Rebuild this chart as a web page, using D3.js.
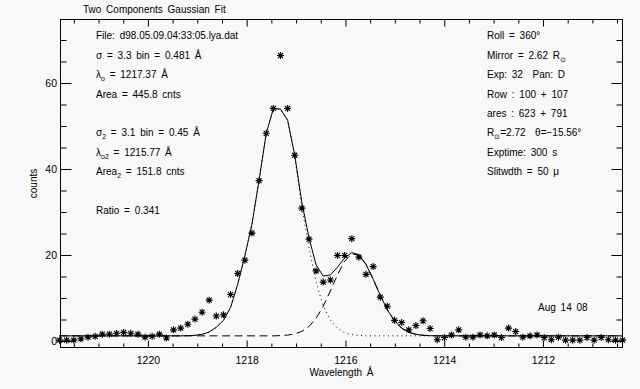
<!DOCTYPE html>
<html lang="en">
<head>
<meta charset="UTF-8">
<title>Two Components Gaussian Fit</title>
<style>
  body { margin: 0; background: #f8f8f8; }
  svg { display: block; font-family: "Liberation Sans", Arial, sans-serif; }
  .note { font-size: 10px; word-spacing: 2px; white-space: pre; }
</style>
</head>
<body>
<svg id="chart" width="640" height="389"></svg>
<script src="https://cdnjs.cloudflare.com/ajax/libs/d3/7.8.5/d3.min.js"></script>
<script>
// wavelength bins (Angstrom) and measured counts
const wavelength = [
  1221.790, 1221.646, 1221.501, 1221.357, 1221.213, 1221.068, 1220.924, 1220.780, 1220.635, 1220.491,
  1220.347, 1220.202, 1220.058, 1219.914, 1219.769, 1219.625, 1219.481, 1219.336, 1219.192, 1219.048,
  1218.903, 1218.759, 1218.615, 1218.470, 1218.326, 1218.182, 1218.037, 1217.893, 1217.749, 1217.604,
  1217.460, 1217.316, 1217.171, 1217.027, 1216.883, 1216.738, 1216.594, 1216.450, 1216.305, 1216.161,
  1216.017, 1215.872, 1215.728, 1215.584, 1215.439, 1215.295, 1215.151, 1215.006, 1214.862, 1214.718,
  1214.573, 1214.429, 1214.285, 1214.140, 1213.996, 1213.852, 1213.707, 1213.563, 1213.419, 1213.274,
  1213.130, 1212.986, 1212.841, 1212.697, 1212.553, 1212.408, 1212.264, 1212.120, 1211.975, 1211.831,
  1211.687, 1211.542, 1211.398, 1211.254, 1211.109, 1210.965, 1210.821, 1210.676, 1210.532, 1210.388
];
const counts = [
  0.2, 0.2, 0.2, 0.5, 0.9, 1.1, 1.6, 1.6, 1.8, 2.0,
  1.8, 1.6, 0.9, 1.1, 1.6, 0.7, 2.6, 3.0, 3.9, 5.1,
  6.7, 9.5, 5.8, 6.1, 10.8, 15.7, 18.8, 25.1, 37.3, 48.3,
  54.1, 66.4, 54.1, 43.2, 30.9, 23.7, 16.3, 13.7, 14.2, 19.9,
  19.9, 23.8, 19.5, 15.5, 17.3, 10.2, 8.1, 4.8, 4.3, 2.6,
  3.6, 4.7, 2.9, 0.3, 0.8, 1.4, 2.6, 0.9, 0.9, 1.4,
  1.2, 1.4, 0.8, 3.0, 2.2, 0.9, 1.2, 1.4, 0.8, 0.3,
  0.9, 0.2, 0.2, 0.2, 0.8, 0.2, 0.8, 0.3, 0.2, 0.2
];
const fitTotal = [
  1.2, 1.2, 1.2, 1.2, 1.2, 1.2, 1.2, 1.2, 1.2, 1.2,
  1.2, 1.2, 1.2, 1.2, 1.2, 1.2, 1.2, 1.2, 1.24, 1.32,
  1.55, 2.1, 3.2, 4.8, 7.8, 13.2, 19.8, 27.2, 37.4, 48.3,
  54.0, 53.96, 51.37, 43.25, 32.24, 23.98, 17.69, 15.09, 15.36, 17.17,
  19.31, 20.55, 20.09, 17.83, 14.4, 10.62, 7.24, 4.67, 2.99, 2.03,
  1.55, 1.33, 1.24, 1.2, 1.2, 1.2, 1.2, 1.2, 1.2, 1.2,
  1.2, 1.2, 1.2, 1.2, 1.2, 1.2, 1.2, 1.2, 1.2, 1.2,
  1.2, 1.2, 1.2, 1.2, 1.2, 1.2, 1.2, 1.2, 1.2, 1.2
];
const fitMain = [
  1.2, 1.2, 1.2, 1.2, 1.2, 1.2, 1.2, 1.2, 1.2, 1.2,
  1.2, 1.2, 1.2, 1.2, 1.2, 1.2, 1.2, 1.2, 1.24, 1.32,
  1.55, 2.1, 3.2, 4.8, 7.8, 13.2, 19.8, 27.2, 37.4, 48.3,
  54.0, 53.9, 51.2, 42.8, 31.2, 21.8, 13.6, 8.2, 4.9, 2.95,
  1.94, 1.48, 1.3, 1.2, 1.2, 1.2, 1.2, 1.2, 1.2, 1.2,
  1.2, 1.2, 1.2, 1.2, 1.2, 1.2, 1.2, 1.2, 1.2, 1.2,
  1.2, 1.2, 1.2, 1.2, 1.2, 1.2, 1.2, 1.2, 1.2, 1.2,
  1.2, 1.2, 1.2, 1.2, 1.2, 1.2, 1.2, 1.2, 1.2, 1.2
];
const fitSecond = [
  1.2, 1.2, 1.2, 1.2, 1.2, 1.2, 1.2, 1.2, 1.2, 1.2,
  1.2, 1.2, 1.2, 1.2, 1.2, 1.2, 1.2, 1.2, 1.2, 1.2,
  1.2, 1.2, 1.2, 1.2, 1.2, 1.2, 1.2, 1.2, 1.2, 1.2,
  1.2, 1.26, 1.37, 1.65, 2.24, 3.38, 5.29, 8.09, 11.66, 15.42,
  18.57, 20.27, 19.99, 17.83, 14.4, 10.62, 7.24, 4.67, 2.99, 2.03,
  1.55, 1.33, 1.24, 1.2, 1.2, 1.2, 1.2, 1.2, 1.2, 1.2,
  1.2, 1.2, 1.2, 1.2, 1.2, 1.2, 1.2, 1.2, 1.2, 1.2,
  1.2, 1.2, 1.2, 1.2, 1.2, 1.2, 1.2, 1.2, 1.2, 1.2
];

const xMajorTicks = [1220, 1218, 1216, 1214, 1212];
const xMinorTicks = [1221.5, 1221, 1220.5, 1219.5, 1219, 1218.5, 1217.5, 1217, 1216.5,
                     1215.5, 1215, 1214.5, 1213.5, 1213, 1212.5, 1211.5, 1211, 1210.5];
const yMajorTicks = [0, 20, 40, 60];
const yMinorTicks = [5, 10, 15, 25, 30, 35, 45, 50, 55, 65, 70];

const title = "Two Components Gaussian Fit";
const leftNotes = [
  "File: d98.05.09.04:33:05.lya.dat",
  "σ = 3.3 bin = 0.481 Å",
  "λ_{o} = 1217.37 Å",
  "Area = 445.8 cnts",
  "",
  "σ_{2} = 3.1 bin = 0.45 Å",
  "λ_{o2} = 1215.77 Å",
  "Area_{2} = 151.8 cnts",
  "",
  "Ratio = 0.341"
];
const rightNotes = [
  "Roll = 360°",
  "Mirror = 2.62 R_{⊙}",
  "Exp: 32  Pan: D",
  "Row : 100 + 107",
  "ares : 623 + 791",
  "R_{⊙}=2.72  θ=−15.56°",
  "Exptime: 300 s",
  "Slitwdth = 50 μ"
];
const dateNote = "Aug 14 08";

const svg = d3.select('#chart');
const plotLeft = 60.5, plotRight = 622.5, plotTop = 19.5, plotBottom = 347.5;

const x = d3.scaleLinear().domain([1221.77, 1210.39]).range([plotLeft, plotRight]);
const y = d3.scaleLinear().domain([-1.51, 74.77]).range([plotBottom, plotTop]);

// axes with inward ticks on all four sides
function axisGroup(axis, tx, ty) {
  const g = svg.append('g').attr('transform', `translate(${tx},${ty})`).call(axis);
  g.select('.domain').remove();
  g.attr('font-family', null).attr('font-size', '10.5px');
  g.selectAll('text').attr('fill', '#000');
  return g;
}
axisGroup(d3.axisBottom(x).tickValues(xMajorTicks).tickSize(-7).tickPadding(9).tickFormat(d3.format('d')), 0, plotBottom);
axisGroup(d3.axisBottom(x).tickValues(xMinorTicks).tickSize(-4).tickFormat(''), 0, plotBottom);
axisGroup(d3.axisTop(x).tickValues(xMajorTicks).tickSize(-7).tickFormat(''), 0, plotTop);
axisGroup(d3.axisTop(x).tickValues(xMinorTicks).tickSize(-4).tickFormat(''), 0, plotTop);
axisGroup(d3.axisLeft(y).tickValues(yMajorTicks).tickSize(-11).tickPadding(3.5), plotLeft, 0);
axisGroup(d3.axisLeft(y).tickValues(yMinorTicks).tickSize(-6).tickFormat(''), plotLeft, 0);
axisGroup(d3.axisRight(y).tickValues(yMajorTicks).tickSize(-11).tickFormat(''), plotRight, 0);
axisGroup(d3.axisRight(y).tickValues(yMinorTicks).tickSize(-6).tickFormat(''), plotRight, 0);

svg.append('rect')
  .attr('x', plotLeft).attr('y', plotTop)
  .attr('width', plotRight - plotLeft).attr('height', plotBottom - plotTop)
  .attr('fill', 'none').attr('stroke', '#000');

// fit curves
const line = vals => d3.line()
  .x((d, i) => x(wavelength[i]))
  .y(d => y(d))(vals);

svg.append('path').attr('d', line(fitMain))
  .attr('fill', 'none').attr('stroke', '#000').attr('stroke-dasharray', '1,3.5');
svg.append('path').attr('d', line(fitSecond))
  .attr('fill', 'none').attr('stroke', '#000').attr('stroke-dasharray', '8,4.5');
svg.append('path').attr('d', line(fitTotal))
  .attr('fill', 'none').attr('stroke', '#000');

// data points as asterisks
const star = 'M-3.5,0H3.5M0,-3.5V3.5M-2.5,-2.5L2.5,2.5M-2.5,2.5L2.5,-2.5';
svg.append('g').selectAll('path')
  .data(counts)
  .enter()
  .append('path')
  .attr('d', star)
  .attr('transform', (d, i) => `translate(${x(wavelength[i])},${y(d)})`)
  .attr('stroke', '#000')
  .attr('stroke-width', 1.1)
  .attr('fill', 'none');

// text with _{sub} and ^{sup} markers
function richText(sel, str) {
  const parts = str.split(/(_\{[^}]*\}|\^\{[^}]*\})/).filter(s => s.length);
  let shift = 0;
  parts.forEach(p => {
    let dy = 0, txt = p, small = false;
    if (p.startsWith('_{')) { txt = p.slice(2, -1); dy = 3; small = true; }
    else if (p.startsWith('^{')) { txt = p.slice(2, -1); dy = -4; small = true; }
    const t = sel.append('tspan').text(txt).attr('dy', dy - shift);
    if (small) t.attr('font-size', '7px');
    shift = dy;
  });
}

svg.append('text').attr('class', 'note')
  .attr('x', 83).attr('y', 12.5).text(title);

leftNotes.forEach((s, i) => {
  if (!s) return;
  richText(svg.append('text').attr('class', 'note')
    .attr('x', 96).attr('y', 39.3 + i * 19.4), s);
});
rightNotes.forEach((s, i) => {
  richText(svg.append('text').attr('class', 'note')
    .attr('x', 487).attr('y', 39.3 + i * 19.4), s);
});
svg.append('text').attr('class', 'note')
  .attr('x', 538).attr('y', 311).text(dateNote);

// axis titles
svg.append('text').attr('class', 'note')
  .attr('text-anchor', 'middle')
  .attr('x', (plotLeft + plotRight) / 2).attr('y', 376)
  .text('Wavelength Å');
svg.append('text').attr('class', 'note')
  .attr('text-anchor', 'middle')
  .attr('transform', `translate(37,${(plotTop + plotBottom) / 2}) rotate(-90)`)
  .text('counts');
</script>
</body>
</html>
